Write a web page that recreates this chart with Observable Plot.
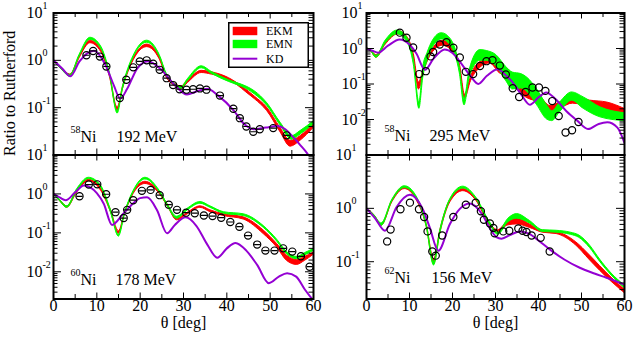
<!DOCTYPE html>
<html><head><meta charset="utf-8">
<script src="https://cdn.jsdelivr.net/npm/d3@7"></script>
<script src="https://cdn.jsdelivr.net/npm/@observablehq/plot@0.6"></script>
<style>
html,body{margin:0;padding:0;background:#fff;}
#chart{position:relative;width:636px;height:339px;font-family:"Liberation Serif","Times New Roman",serif;}
#chart > svg{position:absolute;left:0;top:0;}
#chart text{font-family:"Liberation Serif","Times New Roman",serif;}
</style></head><body><div id="chart"></div>
<script>
// ---------- data ----------
const xMajor = [0,10,20,30,40,50,60];
const xMinor = [5,15,25,35,45,55];

// Panel A: 58Ni 192 MeV
const kdA = [[0,1.0],[2,0.67],[3.9,0.46],[6,0.95],[9.3,1.6],[12,0.8],[13.9,0.3],[15.4,0.155],[17,0.25],[19.3,0.67],[21.8,0.96],[25,0.62],[28,0.3],[30.8,0.19],[33,0.22],[35.5,0.25],[38,0.18],[41.6,0.087],[44,0.045],[46.2,0.035],[49,0.038],[51.6,0.041],[53.5,0.035],[55.3,0.024],[57,0.016],[58.5,0.011],[60,0.007]];
const ekmA = [[0,1.0,1.02],[2,0.62,0.66],[3.9,0.46,0.5],[6,1.1,1.2],[8.5,2.3,2.6],[11,1.5,1.7],[13,0.45,0.5],[14.8,0.085,0.1],[16,0.24,0.27],[18.5,1.0,1.1],[21.6,1.9,2.15],[24.5,1.05,1.2],[26.2,0.42,0.47],[27.7,0.3,0.34],[29.5,0.25,0.28],[31,0.33,0.37],[34.2,0.54,0.6],[36.5,0.5,0.56],[38.5,0.45,0.5],[40.5,0.38,0.42],[42.4,0.3,0.33],[44.5,0.21,0.24],[46.5,0.15,0.17],[49.3,0.085,0.1],[52.4,0.03,0.037],[54.7,0.015,0.02],[57,0.02,0.025],[60,0.037,0.046]];
const emnA = [[0,1.0,1.02],[2,0.62,0.66],[3.9,0.45,0.49],[6,1.2,1.3],[8.5,2.7,3.0],[11,1.75,1.95],[13,0.5,0.55],[14.8,0.075,0.085],[16,0.24,0.27],[18.5,1.15,1.25],[21.6,2.35,2.6],[24.5,1.2,1.3],[26.2,0.46,0.5],[27.7,0.31,0.34],[29.5,0.25,0.27],[31,0.36,0.4],[34.2,0.68,0.75],[36.5,0.52,0.57],[38.5,0.42,0.46],[40.5,0.35,0.38],[42.4,0.3,0.33],[44.5,0.25,0.28],[46.5,0.19,0.22],[49.3,0.11,0.125],[52.4,0.042,0.048],[55,0.021,0.025],[57,0.027,0.032],[60,0.044,0.051]];
const dataA = [[7.6,1.28],[9.15,1.58],[10.7,1.2],[12.2,0.74],[15.3,0.16],[16.8,0.39],[18.4,0.71],[19.9,0.95],[21.5,1.0],[23,0.85],[24.5,0.63],[26.1,0.42],[27.6,0.3],[29.1,0.245],[30.7,0.24],[32.2,0.245],[33.8,0.255],[35.3,0.24],[38.4,0.18],[41.5,0.095],[43,0.06],[44.5,0.04],[46.1,0.031],[47.6,0.035],[50.7,0.037],[53.8,0.026]];

// Panel B: 58Ni 295 MeV
const kdB = [[0,1.0],[1.5,0.85],[2.7,0.76],[5,1.2],[7.7,1.8],[10,1.3],[11.6,0.72],[13.6,0.25],[15.5,0.5],[18.2,0.94],[20,0.75],[21.7,0.43],[24,0.18],[26,0.1],[28,0.17],[30.5,0.26],[32.5,0.17],[34.3,0.1],[36,0.05],[38,0.026],[40,0.042],[41.8,0.058],[44,0.037],[46.5,0.017],[49,0.0093],[51.5,0.0054],[54,0.0075],[56,0.0083],[58.3,0.006],[60,0.0022]];
const ekmB = [[0,1.0,1.02],[1,0.85,0.9],[2.3,0.55,0.65],[4.5,1.3,1.5],[7.4,2.5,3.1],[9.5,1.7,2.1],[11,0.55,0.7],[12.2,0.07,0.11],[13.5,0.25,0.32],[15.5,0.8,1.0],[17.8,1.2,1.65],[20,0.8,1.1],[21.8,0.25,0.32],[22.9,0.038,0.05],[24.3,0.12,0.16],[25.6,0.22,0.34],[28.7,0.38,0.52],[31,0.2,0.35],[33.4,0.14,0.23],[35.5,0.06,0.1],[37.4,0.04,0.07],[40,0.03,0.05],[42.8,0.015,0.024],[45,0.02,0.03],[48,0.028,0.042],[52,0.022,0.034],[56,0.016,0.03],[60,0.012,0.02]];
const emnB = [[0,1.0,1.02],[1,0.85,0.9],[2.3,0.55,0.62],[4.5,1.4,1.7],[7.2,2.5,3.2],[9.5,1.5,2.0],[11,0.35,0.5],[12.3,0.02,0.03],[13.2,0.15,0.3],[14.2,0.45,0.75],[15.5,1.1,1.7],[17.5,1.8,2.7],[19.8,1.1,1.7],[21.7,0.2,0.3],[22.8,0.025,0.038],[24,0.15,0.25],[26.5,0.45,0.9],[28,0.45,0.85],[30.2,0.31,0.65],[32.5,0.12,0.3],[34,0.07,0.21],[36,0.075,0.19],[37.4,0.06,0.15],[39.7,0.025,0.07],[42,0.01,0.025],[43.2,0.009,0.017],[45,0.016,0.03],[47.8,0.034,0.058],[50.5,0.02,0.042],[54.4,0.0115,0.022],[60,0.009,0.015]];
const dataB = [[7.75,2.8],[9.3,2.0],[10.85,1.07],[12.25,0.19],[13.8,0.23],[14.9,0.6],[15.5,0.8],[17.05,1.3],[18.6,1.5],[20.2,1.05],[21.7,0.56],[23.1,0.22],[24.8,0.19],[26.4,0.32],[27.9,0.44],[29.3,0.47],[31,0.33],[32.4,0.185],[34,0.076],[35.5,0.043],[37,0.06],[38.6,0.08],[40.1,0.08],[41.6,0.064],[43.2,0.033],[44.7,0.0125],[46.3,0.0043],[47.8,0.005],[49.3,0.0085]];

// Panel C: 60Ni 178 MeV
const kdC = [[0,1.0],[1.5,0.8],[2.8,0.69],[5,1.1],[7,1.65],[10,1.05],[11.6,0.56],[13.5,0.16],[16,0.3],[18,0.52],[20,0.78],[21.6,0.82],[23.9,0.38],[26.2,0.098],[28,0.16],[30.5,0.25],[33,0.15],[35.5,0.05],[37.8,0.023],[40,0.04],[42,0.055],[44.5,0.035],[47,0.015],[49.7,0.0051],[52,0.0075],[53.9,0.0092],[56,0.0075],[58,0.0035],[60,0.0018]];
const ekmC = [[0,1.0,1.02],[1.5,0.65,0.7],[3.15,0.44,0.48],[5.5,1.1,1.25],[8.15,2.1,2.3],[11,1.2,1.35],[13.2,0.35,0.4],[15.1,0.095,0.11],[16.5,0.3,0.33],[18.5,1.0,1.1],[21.2,1.8,2.05],[24.5,1.0,1.1],[26.5,0.45,0.5],[28.5,0.21,0.23],[31,0.3,0.33],[33.9,0.44,0.48],[36.2,0.34,0.38],[39.3,0.27,0.3],[43.9,0.22,0.25],[48.5,0.093,0.115],[51.6,0.042,0.052],[53.9,0.019,0.026],[56.2,0.015,0.02],[58,0.019,0.024],[60,0.027,0.031]];
const emnC = [[0,1.0,1.02],[1.5,0.65,0.7],[3.15,0.44,0.48],[5.5,1.2,1.35],[8.15,2.4,2.6],[11,1.45,1.6],[13.2,0.35,0.4],[15.1,0.08,0.09],[16.5,0.3,0.33],[18.5,1.1,1.2],[21.2,2.35,2.6],[24.5,1.1,1.2],[26.5,0.45,0.5],[28.5,0.23,0.26],[31,0.38,0.42],[33.9,0.56,0.62],[36.2,0.44,0.48],[39.3,0.31,0.34],[43.9,0.27,0.3],[48.5,0.135,0.15],[51.6,0.06,0.067],[53.9,0.028,0.032],[56.2,0.021,0.024],[58,0.026,0.03],[60,0.034,0.038]];
const dataC = [[6,0.87],[8.15,1.74],[10.1,1.76],[12.15,0.98],[14.3,0.34],[16.2,0.24],[17,0.39],[18.4,0.69],[20.4,1.2],[22.4,1.27],[24.5,0.93],[26.6,0.53],[28.5,0.39],[30.6,0.33],[32.6,0.32],[34.7,0.28],[36.7,0.27],[38.7,0.245],[40.8,0.19],[42.9,0.144],[44.9,0.085],[47,0.05],[48.9,0.035],[51,0.035],[53,0.04],[55.1,0.033],[57.1,0.025],[59.1,0.0135]];

// Panel D: 62Ni 156 MeV
const kdD = [[0,1.0],[2,0.65],[4.3,0.38],[7,1.06],[10.1,1.8],[13.2,0.92],[14.7,0.44],[16.7,0.16],[19.4,0.51],[21.7,0.98],[24,1.23],[27,0.75],[28.7,0.42],[30.2,0.29],[31.4,0.27],[33.5,0.32],[35.7,0.37],[38,0.33],[40,0.25],[42.6,0.17],[46,0.11],[49.6,0.077],[53,0.06],[55.8,0.05],[58,0.043],[60,0.037]];
const ekmD = [[0,1.0,1.02],[1.8,0.7,0.75],[3.5,0.47,0.5],[6,1.3,1.4],[8.9,2.3,2.5],[11.5,1.5,1.65],[14,0.45,0.5],[15.7,0.09,0.11],[17.2,0.35,0.4],[19.5,1.3,1.45],[22.5,2.1,2.3],[25.5,1.4,1.5],[28.7,0.48,0.52],[30.6,0.36,0.39],[33,0.48,0.58],[35,0.5,0.65],[38,0.43,0.5],[41,0.35,0.38],[44.2,0.33,0.36],[48.8,0.2,0.23],[51.8,0.11,0.135],[54.3,0.068,0.083],[57,0.042,0.05],[60,0.026,0.03]];
const emnD = [[0,1.0,1.02],[1.8,0.7,0.75],[3.5,0.47,0.52],[6,1.35,1.45],[8.9,2.4,2.6],[11.5,1.6,1.75],[14,0.45,0.5],[15.7,0.085,0.1],[17.2,0.35,0.4],[19.5,1.4,1.5],[22.5,2.35,2.55],[25.5,1.5,1.6],[28.7,0.5,0.55],[30.6,0.32,0.35],[33,0.55,0.64],[35,0.64,0.78],[38,0.52,0.58],[41,0.36,0.39],[44.2,0.35,0.38],[47.5,0.32,0.35],[49.5,0.28,0.31],[52,0.18,0.2],[54.3,0.1,0.11],[57,0.055,0.06],[60,0.032,0.036]];
const dataD = [[4.8,0.24],[5.6,0.4],[7.9,0.96],[10.1,1.28],[12.2,0.96],[13.4,0.69],[14.2,0.37],[15.3,0.155],[16.1,0.13],[17.6,0.31],[20.2,0.69],[23.1,1.17],[25.4,1.28],[26.6,0.88],[27.3,0.61],[28.7,0.52],[29.5,0.43],[29.8,0.34],[31.8,0.37],[33.2,0.38],[35.3,0.42],[36.3,0.38],[37.2,0.36],[38.4,0.31],[40.5,0.28],[42.6,0.155]];

const legendItems = ["EKM","EMN","KD"];

// ---------- style ----------
const RED = "#ff0000", GREEN = "#00ff00", PURPLE = "#9400d3";
const FONT = "'Liberation Serif','Times New Roman',serif";
const W = 636, H = 339;

const capSymbol = {draw(ctx, size){ const r = Math.sqrt(size/Math.PI); ctx.moveTo(-r*0.85,0); ctx.lineTo(r*0.85,0); }};

function decadeTicks([lo, hi]) {
  const major = [], minor = [];
  for (let e = Math.floor(Math.log10(lo)) - 1; e <= Math.ceil(Math.log10(hi)); e++) {
    const p = Math.pow(10, e);
    if (p >= lo*0.999 && p <= hi*1.001) major.push(p);
    for (let m = 2; m <= 9; m++) { const v = m*p; if (v > lo*1.001 && v < hi*0.999) minor.push(v); }
  }
  return {major, minor};
}

function supify(svg) {
  svg.querySelectorAll("text").forEach(t => {
    const s = t.textContent;
    if (!s.includes("^{")) return;
    t.textContent = "";
    const re = /\^\{([^}]*)\}/g; let last = 0, m, raised = false;
    const add = (str, sup) => {
      if (!str) return;
      const ts = document.createElementNS("http://www.w3.org/2000/svg", "tspan");
      ts.textContent = str;
      if (sup) { ts.setAttribute("font-size", "10"); ts.setAttribute("dy", "-9"); raised = true; }
      else if (raised) { ts.setAttribute("dy", "9"); raised = false; }
      t.appendChild(ts);
    };
    while ((m = re.exec(s))) { add(s.slice(last, m.index), false); add(m[1], true); last = re.lastIndex; }
    add(s.slice(last), false);
  });
}

function panel(o) {
  const [L, R, T, B] = o.frame;
  const pw = R - L, ph = B - T;
  const {major, minor} = decadeTicks(o.yDomain);
  const band = (data, color) => Plot.areaY(data, {x: d => d[0], y1: d => d[1], y2: d => d[2], fill: color, stroke: color, strokeWidth: 1, curve: "monotone-x", clip: true});
  const txt = {fontSize: 16, fontFamily: FONT, fill: "black"};
  const marks = [
    band(o.ekm, RED),
    band(o.emn, GREEN),
    Plot.line(o.kd, {x: d => d[0], y: d => d[1], stroke: PURPLE, strokeWidth: 2, curve: "monotone-x", clip: true}),
    Plot.dot(o.pts, {x: d => d[0], y: d => d[1], r: 3.6, stroke: "black", strokeWidth: 1.2, fill: "none", clip: true})
  ];
  if (o.errbars) marks.push(Plot.dot(o.pts, {x: d => d[0], y: d => d[1], r: 3.6, symbol: capSymbol, stroke: "black", strokeWidth: 1.2, fill: "none", clip: true}));
  marks.push(
    Plot.tickY(major, {y: d => d, insetRight: pw - 8, stroke: "black"}),
    Plot.tickY(major, {y: d => d, insetLeft: pw - 8, stroke: "black"}),
    Plot.tickY(minor, {y: d => d, insetRight: pw - 4.5, stroke: "black"}),
    Plot.tickY(minor, {y: d => d, insetLeft: pw - 4.5, stroke: "black"}),
    Plot.tickX(xMajor, {x: d => d, insetBottom: ph - 6, stroke: "black"}),
    Plot.tickX(xMajor, {x: d => d, insetTop: ph - 6, stroke: "black"}),
    Plot.tickX(xMinor, {x: d => d, insetBottom: ph - 4.5, stroke: "black"}),
    Plot.tickX(xMinor, {x: d => d, insetTop: ph - 4.5, stroke: "black"}),
    Plot.frame({stroke: "black", strokeWidth: 2}),
    Plot.text(o.yLabels, {y: d => d, text: d => `10^{${Math.round(Math.log10(d))}}`, frameAnchor: "left", dx: o.yLabelDx, textAnchor: "start", ...txt}),
    Plot.text([o.nucleus], {text: d => d, frameAnchor: "bottom-left", dx: o.labelX[0], dy: o.labelDy, textAnchor: "start", lineAnchor: "bottom", ...txt}),
    Plot.text([o.energy], {text: d => d, frameAnchor: "bottom-left", dx: o.labelX[1], dy: o.labelDy, textAnchor: "start", lineAnchor: "bottom", ...txt})
  );
  if (o.xLabels) {
    marks.push(
      Plot.text(xMajor, {x: d => d, text: d => String(d), frameAnchor: "bottom", dy: 12, ...txt}),
      Plot.text(["θ [deg]"], {text: d => d, frameAnchor: "bottom", dy: 28.5, ...txt})
    );
  }
  if (o.yTitle) {
    marks.push(Plot.text([o.yTitle], {text: d => d, frameAnchor: "left", dx: -44, dy: 72, rotate: -90, ...txt}));
  }
  const svg = Plot.plot({
    width: W, height: H,
    marginLeft: L, marginRight: W - R, marginTop: T, marginBottom: H - B,
    x: {domain: [0, 60], axis: null},
    y: {type: "log", domain: o.yDomain, axis: null},
    style: {background: "transparent", fontFamily: FONT, overflow: "visible"},
    marks
  });
  supify(svg);
  return svg;
}

const chart = document.getElementById("chart");
chart.appendChild(panel({frame: [53, 313, 12.5, 154.5], yDomain: [0.01, 10], kd: kdA, ekm: ekmA, emn: emnA, pts: dataA, errbars: true,
  yLabels: [10, 1, 0.1], yLabelDx: -27, nucleus: "^{58}Ni", energy: "192 MeV", labelX: [17, 63], labelDy: -13.5, yTitle: "Ratio to Rutherford"}));
chart.appendChild(panel({frame: [366, 624, 12.5, 154.5], yDomain: [0.001, 10], kd: kdB, ekm: ekmB, emn: emnB, pts: dataB, errbars: false,
  yLabels: [10, 1, 0.1, 0.01], yLabelDx: -25, nucleus: "^{58}Ni", energy: "295 MeV", labelX: [18, 63], labelDy: -14.5}));
chart.appendChild(panel({frame: [53, 313, 154.5, 298.5], yDomain: [0.002, 10], kd: kdC, ekm: ekmC, emn: emnC, pts: dataC, errbars: true,
  yLabels: [10, 1, 0.1, 0.01], yLabelDx: -27, nucleus: "^{60}Ni", energy: "178 MeV", labelX: [17, 62], labelDy: -14.5, xLabels: true}));
chart.appendChild(panel({frame: [366, 624, 154.5, 298.5], yDomain: [0.02, 10], kd: kdD, ekm: ekmD, emn: emnD, pts: dataD, errbars: false,
  yLabels: [10, 1, 0.1], yLabelDx: -31, nucleus: "^{62}Ni", energy: "156 MeV", labelX: [18, 65], labelDy: -16, xLabels: true}));

// ---------- legend (inside top-left panel) ----------
const colors = [RED, GREEN, PURPLE];
const lg = d3.select(chart).append("svg")
  .attr("width", 82).attr("height", 47)
  .style("left", "228px").style("top", "22px").style("position", "absolute")
  .style("font-family", FONT);
lg.append("rect").attr("x", 0.75).attr("y", 0.75).attr("width", 79.5).attr("height", 44.5)
  .attr("fill", "white").attr("stroke", "black").attr("stroke-width", 1.5);
legendItems.forEach((name, i) => {
  const cy = [9, 22, 36.7][i];
  if (i < 2) lg.append("rect").attr("x", 4.7).attr("y", cy - 4.2).attr("width", 24.6).attr("height", 8.4).attr("fill", colors[i]);
  else lg.append("line").attr("x1", 4.7).attr("x2", 29.3).attr("y1", cy).attr("y2", cy).attr("stroke", colors[i]).attr("stroke-width", 2);
  lg.append("text").attr("x", 38).attr("y", cy + 4).attr("font-size", 12).attr("font-family", FONT).attr("fill", "black").text(name);
});
</script></body></html>
